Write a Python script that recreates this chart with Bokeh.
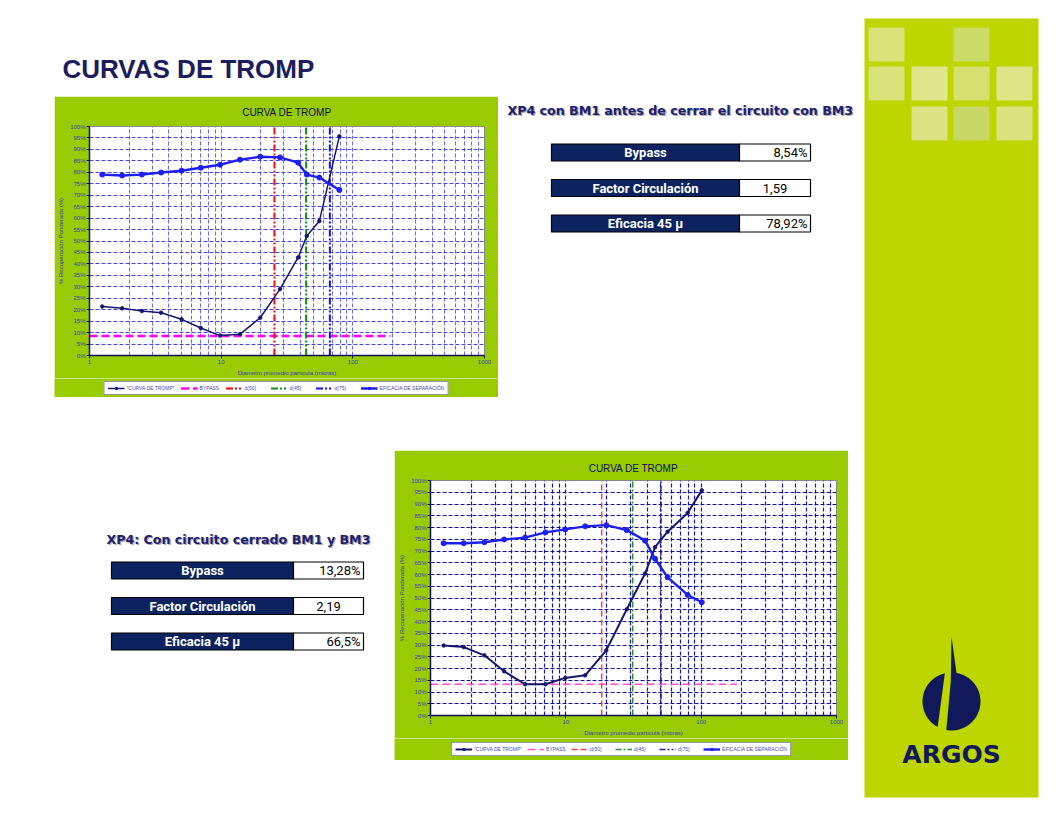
import numpy as np
from bokeh.plotting import figure
from bokeh.models import (FixedTicker, PrintfTickFormatter, Legend, LegendItem, Range1d, GridBox)
from bokeh.core.properties import value
from bokeh.embed import file_html
from bokeh.resources import INLINE

# ---------------- data ----------------
slide_title = "CURVAS DE TROMP"
chart_title = "CURVA DE TROMP"
x_label = "Diametro promedio particula (micras)"
y_label = "% Recuperación Ponderada (%)"

x_ticks = [1, 10, 100, 1000]
y_ticks = list(range(0, 101, 5))

legend_labels = ['"CURVA DE TROMP"', "BYPASS", "d(50)", "d(45)", "d(75)", "EFICACIA DE SEPARACIÓN"]

# chart 1 : XP4 con BM1 antes de cerrar el circuito con BM3
sizes_1 = [1.25, 1.77, 2.5, 3.5, 5.0, 7.0, 9.8, 13.9, 19.8, 28.0, 38.4, 44.7, 55.7, 79.0]
tromp_1 = [21.4, 20.6, 19.4, 18.7, 15.8, 12.0, 8.7, 9.3, 16.5, 29.0, 42.8, 52.2, 58.7, 95.7]
eff_1 = [79.0, 78.6, 79.0, 79.9, 80.7, 82.0, 83.3, 85.5, 86.8, 86.5, 84.2, 79.0, 77.7, 72.3]
cuts_1 = [25.4, 44.2, 66.9]
bypass_1 = 8.54
bypass_end_1 = 193

# chart 2 : XP4 con circuito cerrado BM1 y BM3
sizes_2 = [1.25, 1.76, 2.5, 3.5, 5.0, 7.07, 9.9, 13.9, 19.9, 28.2, 38.5, 45.6, 56.5, 79.5, 101.0]
tromp_2 = [29.8, 29.1, 25.6, 18.8, 13.3, 13.3, 16.0, 17.1, 27.7, 45.2, 60.4, 71.6, 78.2, 86.2, 95.8]
eff_2 = [73.3, 73.3, 73.7, 74.9, 75.7, 77.9, 79.2, 80.5, 81.0, 78.9, 74.4, 66.7, 58.8, 51.3, 48.2]
cuts_2 = [18.4, 31.2, 50.5]
bypass_2 = 13.28
bypass_end_2 = 184

table_labels = ["Bypass", "Factor Circulación", "Eficacia 45 µ"]
table_title_1 = "XP4 con BM1 antes de cerrar el circuito con BM3"
table_values_1 = ["8,54%", "1,59", "78,92%"]
table_title_2 = "XP4: Con circuito cerrado BM1 y BM3"
table_values_2 = ["13,28%", "2,19", "66,5%"]

# ---------------- styles ----------------
GREEN_CHART = "#99CC00"
NAVY_TXT = "#1c1d5e"
CELL_NAVY = "#0c2360"
BAND = "#BDD600"
FONT = "Liberation Sans"
CELL_FONT = "Roboto"
TROMP_C = "#16166e"
EFF_C = "#1e1ef0"


def plain_fig(w, h, bg="white"):
    p = figure(width=w, height=h, x_range=Range1d(0, w), y_range=Range1d(h, 0),
               output_backend="svg", toolbar_location=None, min_border=0,
               x_axis_location=None, y_axis_location=None, frame_align=False)
    p.grid.visible = False
    p.outline_line_color = None
    p.border_fill_color = bg
    p.background_fill_color = bg
    return p


def draw_series(p, sizes, tromp, eff, cuts, bypass, bypass_end, st):
    rb = p.line([x_ticks[0], bypass_end], [bypass, bypass],
                line_color=st["bypass"], line_width=st["bw"], line_dash="8 4")
    cut_r = []
    for c, col, dash in zip(cuts, st["cut_colors"], st["cut_dash"]):
        cut_r.append(p.line([c, c], [y_ticks[0], y_ticks[-1]],
                            line_color=col, line_width=st["cw"], line_dash=dash))
    lt = p.line(sizes, tromp, line_color=TROMP_C, line_width=st["tw"])
    mt = p.scatter(sizes, tromp, marker="circle", size=3.5, color=TROMP_C)
    le = p.line(sizes, eff, line_color=EFF_C, line_width=2.4)
    me = p.scatter(sizes, eff, marker="circle", size=5, color=EFF_C)
    items = [LegendItem(label=legend_labels[0], renderers=[lt, mt]),
             LegendItem(label=legend_labels[1], renderers=[rb])]
    for lab, rr in zip(legend_labels[2:5], cut_r):
        items.append(LegendItem(label=lab, renderers=[rr]))
    items.append(LegendItem(label=legend_labels[5], renderers=[le, me]))
    return items


def make_chart(w, h, borders, sizes, tromp, eff, cuts, bypass, bypass_end, st):
    l, r, t, b = borders
    p = figure(width=w, height=h, x_axis_type="log", x_range=Range1d(x_ticks[0], x_ticks[-1]),
               y_range=Range1d(y_ticks[0], y_ticks[-1]), output_backend="svg", toolbar_location=None,
               min_border_left=l, min_border_right=r, min_border_top=t, min_border_bottom=b,
               background_fill_color="white", border_fill_color=GREEN_CHART, title=chart_title,
               frame_align=False)
    p.title.align = "center"
    p.title.text_font = FONT
    p.title.text_font_size = "10px"
    p.title.text_font_style = "normal"
    p.title.text_color = "#0a0a5a"
    p.title.standoff = st["tstand"]
    p.outline_line_color = "#8a8a8a"

    minor = [m * 10 ** e for e in range(3) for m in range(2, 10)]
    p.xaxis.ticker = FixedTicker(ticks=x_ticks, minor_ticks=minor)
    p.xaxis.formatter = PrintfTickFormatter(format="%d")
    p.yaxis.ticker = FixedTicker(ticks=y_ticks)
    p.yaxis.formatter = PrintfTickFormatter(format="%d%%")
    for ax in (p.xaxis, p.yaxis):
        ax.axis_line_color = "#10105a"
        ax.axis_line_width = 1.5
        ax.major_tick_line_color = "#10105a"
        ax.major_tick_out = 3
        ax.major_tick_in = 0
        ax.minor_tick_out = 0
        ax.minor_tick_in = 0
        ax.major_label_text_font = FONT
        ax.major_label_text_font_size = "6px"
        ax.major_label_text_color = "#3a3ac8"
        ax.major_label_standoff = 1
        ax.axis_label_text_font = FONT
        ax.axis_label_text_font_size = "6px"
        ax.axis_label_text_font_style = "normal"
        ax.axis_label_text_color = "#3a3ac8"
        ax.axis_label_standoff = 3
    p.xaxis.axis_label = x_label
    p.yaxis.axis_label = y_label

    p.ygrid.grid_line_color = st["hgrid"]
    p.ygrid.grid_line_dash = "4 2"
    p.ygrid.grid_line_width = st["gw"]
    p.xgrid.grid_line_color = st["vgrid"]
    p.xgrid.grid_line_dash = "4 2"
    p.xgrid.grid_line_width = st["gw"]
    p.xgrid.minor_grid_line_color = st["vgrid"]
    p.xgrid.minor_grid_line_dash = "4 2"
    p.xgrid.minor_grid_line_width = st["gw"]

    draw_series(p, sizes, tromp, eff, cuts, bypass, bypass_end, st)
    return p


def make_legend_strip(w, h, sizes, tromp, eff, cuts, bypass, bypass_end, st):
    # legend strip below the chart; its frame shows a window where the series do not fall,
    # so only the legend samples are seen
    p = figure(width=w, height=h, x_range=Range1d(0, 0.5), y_range=Range1d(-2, -1),
               output_backend="svg", toolbar_location=None, min_border=0,
               x_axis_location=None, y_axis_location=None, frame_align=False)
    p.grid.visible = False
    p.outline_line_color = None
    p.border_fill_color = GREEN_CHART
    p.background_fill_color = GREEN_CHART
    items = draw_series(p, sizes, tromp, eff, cuts, bypass, bypass_end, st)
    leg = Legend(items=items, orientation="horizontal", location="center",
                 label_text_font=FONT, label_text_font_size="5px", label_text_color="#4a4ab0",
                 glyph_width=17, glyph_height=6, label_height=6, label_standoff=2,
                 spacing=st["lspace"], padding=3, margin=0, border_line_color="#303050",
                 border_line_width=1, background_fill_color="white", background_fill_alpha=1)
    p.add_layout(leg)
    return p


def make_table(w, h, tx, ty, title, x0, x1, x2, y0, pitch, labels, values):
    p = plain_fig(w, h)
    p.text([tx + 1.2], [ty + 1.2], text=[title], text_font=value("DejaVu Sans"), text_font_size="12.6px",
           text_font_style="bold", text_color="#a8a8a8", text_baseline="middle", text_align="left")
    p.text([tx], [ty], text=[title], text_font=value("DejaVu Sans"), text_font_size="12.6px",
           text_font_style="bold", text_color="#202070", text_baseline="middle", text_align="left")
    n = len(labels)
    yc = [y0 + i * pitch for i in range(n)]
    top = [y - 8.5 for y in yc]
    bot = [y + 8.5 for y in yc]
    p.quad(left=[x0] * n, right=[x1] * n, top=top, bottom=bot, fill_color=CELL_NAVY,
           line_color="black", line_width=1.2)
    p.quad(left=[x1] * n, right=[x2] * n, top=top, bottom=bot, fill_color="white",
           line_color="black", line_width=1.2)
    p.text([(x0 + x1) / 2] * n, yc, text=labels, text_font=value(CELL_FONT),
           text_font_size="13px", text_font_style="bold", text_color="white",
           text_align="center", text_baseline="middle")
    for v, y in zip(values, yc):
        if v.endswith("%"):
            p.text([x2 - 3], [y], text=[v], text_font=value(CELL_FONT),
                   text_font_size="13px", text_color="black", text_align="right", text_baseline="middle")
        else:
            p.text([(x1 + x2) / 2], [y], text=[v], text_font=value(CELL_FONT),
                   text_font_size="13px", text_color="black", text_align="center", text_baseline="middle")
    return p


def make_top(w, h):
    p = plain_fig(w, h)
    p.text([54], [60], text=[slide_title], text_font=value(FONT), text_font_size="26px",
           text_font_style="bold", text_color=NAVY_TXT, text_baseline="middle", text_align="left")
    return p


def disk_piece(cx, cy, r, x0, y0, slope, keep_left):
    t = np.linspace(0, 2 * np.pi, 240, endpoint=False)
    bx, by = cx + r * np.cos(t), cy + r * np.sin(t)
    lx = x0 + slope * (by - y0)
    sel = bx <= lx if keep_left else bx >= lx
    ys = np.linspace(cy - r, cy + r, 200)
    xs = x0 + slope * (ys - y0)
    inside = (xs - cx) ** 2 + (ys - cy) ** 2 <= r * r
    px = np.concatenate([bx[sel], xs[inside]])
    py = np.concatenate([by[sel], ys[inside]])
    ang = np.arctan2(py - py.mean(), px - px.mean())
    o = np.argsort(ang)
    return list(px[o]), list(py[o])


def make_band(w, h):
    p = plain_fig(w, h)
    p.quad(left=[2], right=[176], top=[18], bottom=[797], fill_color=BAND, line_color=None)
    sq_l = [6, 91, 6, 49, 91, 134, 49, 91, 134]
    sq_t = [27, 27, 66, 66, 66, 66, 106, 106, 106]
    sq_c = ["#d9e37a", "#cadb66", "#d8e37a", "#dee78c", "#d4e16e", "#dce689",
            "#dae485", "#c8d866", "#d9e47e"]
    p.quad(left=sq_l, right=[v + 36 for v in sq_l], top=sq_t, bottom=[v + 34 for v in sq_t],
           fill_color=sq_c, line_color=None)
    navy = "#12195a"
    lx, ly = disk_piece(89, 701, 29, 82.3, 673.3, -0.134, True)
    rx, ry = disk_piece(89, 701, 29, 89.0, 673.3, -0.0926, False)
    p.patch(lx, ly, fill_color=navy, line_color=None)
    p.patch(rx, ry, fill_color=navy, line_color=None)
    p.patch([89, 95, 88.3], [636, 680, 680], fill_color=navy, line_color=None)
    p.text([89], [754], text=["ARGOS"], text_font=value("DejaVu Sans"), text_font_size="25px",
           text_font_style="bold", text_color=navy, text_align="center", text_baseline="middle")
    return p


st1 = dict(hgrid="#4646d8", vgrid="#6a6af0", gw=1, bypass="#ff00ff", bw=2.5,
           cut_colors=["#e81010", "#108a10", "#1010e8"],
           cut_dash=["7 2 2 2 2 2", "7 2 2 2 2 2", "7 2 2 2 2 2"], cw=2, tw=1.5, lspace=6, tstand=17)
st2 = dict(hgrid="#12129a", vgrid="#1818a8", gw=1.2, bypass="#ff55cc", bw=1.5,
           cut_colors=["#ff4040", "#2e8b2e", "#20209a"],
           cut_dash=["6 3", "6 2 2 2", "6 2 2 2 2 2"], cw=1.5, tw=2, lspace=5, tstand=14)

c1 = make_chart(444, 282, (35, 14, 29, 23), sizes_1, tromp_1, eff_1, cuts_1, bypass_1, bypass_end_1, st1)
s1 = make_legend_strip(444, 19, sizes_1, tromp_1, eff_1, cuts_1, bypass_1, bypass_end_1, st1)
c2 = make_chart(454, 288, (36, 12, 30, 21), sizes_2, tromp_2, eff_2, cuts_2, bypass_2, bypass_end_2, st2)
s2 = make_legend_strip(454, 22, sizes_2, tromp_2, eff_2, cuts_2, bypass_2, bypass_end_2, st2)
t1 = make_table(364, 301, 9, 14, table_title_1, 53, 241, 312, 56, 35.5, table_labels, table_values_1)
t2 = make_table(386, 310, 98, 89, table_title_2, 103, 285, 355, 120, 35.5, table_labels, table_values_2)
top = make_top(854, 88)
band = make_band(186, 808)

col_w = [8, 46, 340, 104, 350, 14, 186]
row_h = [8, 88, 282, 19, 53, 288, 22, 48]
grid = GridBox(children=[(top, 1, 1, 1, 5),
                         (c1, 2, 2, 1, 2),
                         (s1, 3, 2, 1, 2),
                         (t1, 2, 4, 2, 2),
                         (t2, 5, 1, 2, 2),
                         (c2, 5, 3, 1, 2),
                         (s2, 6, 3, 1, 2),
                         (band, 0, 6, 8, 1)],
               rows=[f"{v}px" for v in row_h], cols=[f"{v}px" for v in col_w], spacing=0)

with open("out.html", "w", encoding="utf-8") as f:
    f.write(file_html(grid, INLINE, "Curvas de Tromp"))
